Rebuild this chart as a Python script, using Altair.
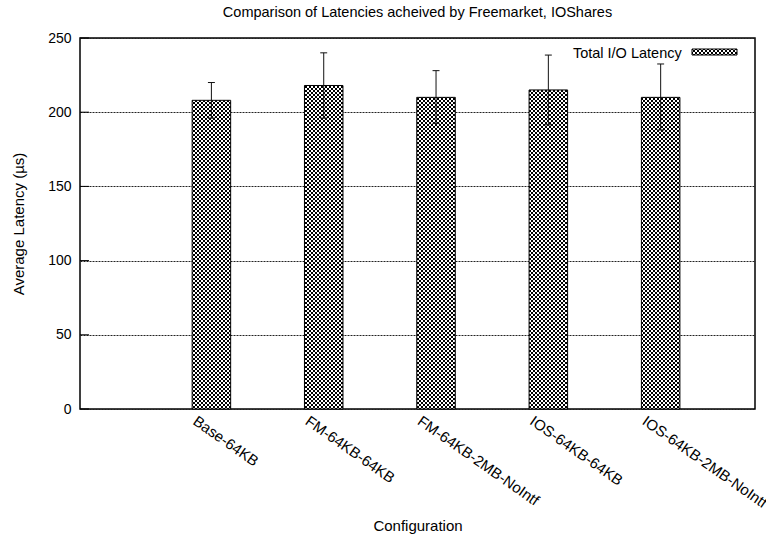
import json
import math

import altair as alt
import pandas as pd

# Mean total I/O latency per configuration, with error-bar bounds (µs)
configs = ["Base-64KB", "FM-64KB-64KB", "FM-64KB-2MB-NoIntf", "IOS-64KB-64KB", "IOS-64KB-2MB-NoIntf"]
latency = [208, 218, 210, 215, 210]
err_low = [196, 196, 192.5, 191.5, 188]
err_high = [220, 240, 228, 238.5, 232.5]
y_ticks = [0, 50, 100, 150, 200, 250]
series_name = "Total I/O Latency"

chart_title = "Comparison of Latencies acheived by Freemarket, IOShares"
x_title = "Configuration"
y_title = "Average Latency (µs)"

# Layout in pixels
LEFT, TOP = 80, 38
W, H = 675, 371
CANVAS_W, CANVAS_H = 766, 544
X_DOMAIN = [-1.17, 4.84]
Y_DOMAIN = [0, 250]
BAR = 0.343      # bar width, x units
CAP = 0.031      # half width of error-bar caps, x units
FONT = "Liberation Sans"
PERIOD = 4.0     # crosshatch repeat, pixels

px_x = W / (X_DOMAIN[1] - X_DOMAIN[0])
px_y = H / (Y_DOMAIN[1] - Y_DOMAIN[0])


def hatch(bx, by, bw, bh, direction, ink, paper):
    """Linear gradient with hard stops that draws one family of 45-degree hatch
    lines over a bw x bh box whose top-left corner sits at page position (bx, by).
    The lines are locked to a fixed page grid so neighbouring boxes line up."""
    L = bw + bh
    k = L / (bw * bw + bh * bh)
    if direction == "up":          # lines of constant x + y
        x1, y1, x2, y2 = 0.0, 0.0, k * bw, k * bh
        start = bx + by
        first = 0.5
    else:                          # lines of constant x - y
        x1, y1, x2, y2 = 0.0, 1.0, k * bw, 1.0 - k * bh
        start = bx - by - bh
        first = 2.5
    stops = []
    kmin = math.floor((start - first) / PERIOD) - 1
    kmax = math.ceil((start + L - first) / PERIOD) + 1
    for kk in range(kmin, kmax + 1):
        a = (kk * PERIOD + first - start) / L
        b = a + 1.0 / L
        if b <= 0 or a >= 1:
            continue
        a, b = max(a, 0.0), min(b, 1.0)
        stops += [(a, paper), (a, ink), (b, ink), (b, paper)]
    if not stops or stops[0][0] > 0:
        stops.insert(0, (0.0, paper))
    if stops[-1][0] < 1:
        stops.append((1.0, paper))
    return alt.LinearGradient(
        gradient="linear",
        stops=[alt.GradientStop(offset=round(o, 6), color=c) for o, c in stops],
        x1=round(x1, 6), y1=round(y1, 6), x2=round(x2, 6), y2=round(y2, 6),
    )


def crosshatch_layers(chart, bx, by, bw, bh, encoding):
    """White box with two crossing hatch families and a black outline."""
    back = chart.mark_rect(fill=hatch(bx, by, bw, bh, "down", "black", "white")).encode(**encoding)
    front = chart.mark_rect(
        fill=hatch(bx, by, bw, bh, "up", "black", "rgba(255,255,255,0)"),
        stroke="black", strokeWidth=1,
    ).encode(**encoding)
    return [back, front]


df = pd.DataFrame({
    "idx": list(range(len(configs))),
    "config": configs,
    "latency": latency,
    "lo": err_low,
    "hi": err_high,
})

x_scale = alt.Scale(domain=X_DOMAIN, nice=False, zero=False)
y_scale = alt.Scale(domain=Y_DOMAIN, nice=False, zero=True)

x_axis = alt.Axis(
    values=list(range(len(configs))),
    labelExpr=json.dumps(configs) + "[datum.value]",
    labelAngle=35, labelAlign="left", labelBaseline="alphabetic",
    labelOffset=-20, labelPadding=14, labelOverlap=False, labelFlush=False,
    labelBound=False, labelFont=FONT, labelFontSize=15, labelColor="black",
    ticks=False, tickSize=0, domain=False, grid=False,
    title=x_title, titleFont=FONT, titleFontSize=15, titleFontWeight="normal",
    titleColor="black", titleX=W / 2, titleY=116, titleAlign="center",
    titleBaseline="middle",
)

y_axis = alt.Axis(
    values=y_ticks, grid=True, gridColor="#222222", gridDash=[2, 1], gridWidth=1,
    ticks=False, tickSize=0, domain=False, labelPadding=9,
    labelFont=FONT, labelFontSize=14, labelColor="black",
    title=y_title, titleFont=FONT, titleFontSize=15, titleFontWeight="normal",
    titleColor="black", titleX=-61.5, titleY=H / 2, titleAngle=-90,
    titleAlign="center", titleBaseline="middle",
)


def X(field):
    return alt.X(field, scale=x_scale, axis=x_axis)


def Y(field):
    return alt.Y(field, scale=y_scale, axis=y_axis)


layers = []

# Bars, one layer pair per configuration so each gets its own hatch geometry
for i, v in enumerate(latency):
    bx = LEFT + (i - BAR / 2 - X_DOMAIN[0]) * px_x
    bw = BAR * px_x
    by = TOP + (Y_DOMAIN[1] - v) * px_y
    bh = (v - Y_DOMAIN[0]) * px_y
    base = (
        alt.Chart(df)
        .transform_filter(alt.datum.idx == i)
        .transform_calculate(x0=alt.datum.idx - BAR / 2, x1=alt.datum.idx + BAR / 2)
    )
    enc = dict(x=X("x0:Q"), x2="x1:Q", y=Y("latency:Q"), y2=alt.datum(0))
    layers += crosshatch_layers(base, bx, by, bw, bh, enc)

# Error bars with caps
err = alt.Chart(df)
whisker = err.mark_rule(color="#111111", strokeWidth=1).encode(
    x=X("idx:Q"), y=Y("lo:Q"), y2="hi:Q",
)
capped = err.transform_calculate(c0=alt.datum.idx - CAP, c1=alt.datum.idx + CAP)
cap_hi = capped.mark_rule(color="#111111", strokeWidth=1).encode(
    x=X("c0:Q"), x2="c1:Q", y=Y("hi:Q"),
)
cap_lo = capped.mark_rule(color="#111111", strokeWidth=1).encode(
    x=X("c0:Q"), x2="c1:Q", y=Y("lo:Q"),
)

# Inward tick marks on the left border
inner_ticks = alt.Chart(pd.DataFrame({"v": y_ticks})).mark_rule(color="black", strokeWidth=1).encode(
    x=alt.value(0), x2=alt.value(9), y=Y("v:Q"),
)

# Key in the top-right corner
key_df = pd.DataFrame({"name": [series_name]})
key = alt.Chart(key_df)
key_text = key.mark_text(
    font=FONT, fontSize=14.5, align="right", baseline="alphabetic", color="black"
).encode(text="name:N", x=alt.value(601.7), y=alt.value(20))
SW_X0, SW_X1, SW_Y0, SW_Y1 = 612, 657, 11, 17
key_swatch = crosshatch_layers(
    key, LEFT + SW_X0, TOP + SW_Y0, SW_X1 - SW_X0, SW_Y1 - SW_Y0,
    dict(x=alt.value(SW_X0), x2=alt.value(SW_X1), y=alt.value(SW_Y0), y2=alt.value(SW_Y1)),
)

# Chart heading
heading = alt.Chart(pd.DataFrame({"t": [chart_title]})).mark_text(
    font=FONT, fontSize=14.5, align="center", baseline="alphabetic", color="black"
).encode(text="t:N", x=alt.value(W / 2), y=alt.value(-21))

chart = (
    alt.layer(*layers, whisker, cap_lo, cap_hi, inner_ticks, key_text, *key_swatch, heading)
    .properties(
        width=W,
        height=H,
        autosize=alt.AutoSizeParams(type="none"),
        padding={"left": LEFT, "top": TOP, "right": CANVAS_W - LEFT - W, "bottom": CANVAS_H - TOP - H},
        background="white",
    )
    .configure(font=FONT)
    .configure_view(stroke="black", strokeWidth=1.5)
)

chart.save("out.html", embed_options={"renderer": "svg", "actions": False})
